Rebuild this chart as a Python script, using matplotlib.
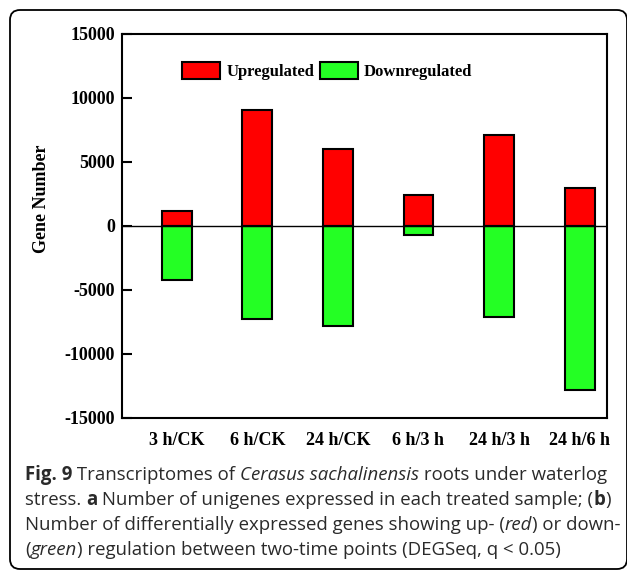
import numpy as np
import matplotlib.pyplot as plt
from matplotlib.patches import FancyBboxPatch, Patch
from matplotlib.transforms import IdentityTransform

plt.rcParams['axes.unicode_minus'] = False

# Dados: genes diferencialmente expressos por comparação
grupos = ['3 h/CK', '6 h/CK', '24 h/CK', '6 h/3 h', '24 h/3 h', '24 h/6 h']
up = [1200, 9050, 6000, 2400, 7080, 3000]
down = [-4200, -7250, -7850, -730, -7130, -12850]
yticks = [-15000, -10000, -5000, 0, 5000, 10000, 15000]

cor_up = '#ff0000'
cor_down = '#24ff24'
serif = ['Liberation Serif', 'DejaVu Serif']

W, H = 627, 571
fig = plt.figure(figsize=(W/100, H/100), dpi=100)
ax = fig.add_axes([122/W, 1-418/H, (607-122)/W, (418-34)/H])

x = np.arange(len(grupos))
ax.bar(x, up, width=0.37, color=cor_up, edgecolor='black', linewidth=1.5, zorder=3)
ax.bar(x, down, width=0.37, color=cor_down, edgecolor='black', linewidth=1.5, zorder=3)
ax.axhline(0, color='black', linewidth=1.0, zorder=4)

ax.set_xlim(-0.68, 5.34)
ax.set_ylim(-15000, 15000)
ax.set_yticks(yticks)
ax.set_xticks(x)
ax.set_xticklabels(grupos)
for lab in ax.get_xticklabels() + ax.get_yticklabels():
    lab.set_fontfamily(serif)
    lab.set_fontweight('bold')
    lab.set_fontsize(13)
ax.tick_params(axis='y', direction='in', length=7, width=1.5, pad=5)
ax.tick_params(axis='x', length=0, pad=10)
for s in ax.spines.values():
    s.set_linewidth(1.5)
ax.set_ylabel('Gene Number', fontfamily=serif, fontweight='bold', fontsize=13)
ax.yaxis.set_label_coords(-0.148, 0.572)

# Legenda
handles = [Patch(facecolor=cor_up, edgecolor='black', linewidth=1.5),
           Patch(facecolor=cor_down, edgecolor='black', linewidth=1.5)]
ax.legend(handles, ['Upregulated', 'Downregulated'], loc='center', bbox_to_anchor=(0.423, 0.904),
          ncol=2, frameon=False, handlelength=2.3, handleheight=1.2, handletextpad=0.35,
          columnspacing=0.35, prop={'family': serif, 'weight': 'bold', 'size': 12})

# Moldura arredondada
frame = FancyBboxPatch((10, 2), 617, 559, boxstyle='round,pad=0,rounding_size=10',
                       transform=IdentityTransform(), fill=False, edgecolor='black',
                       linewidth=1.3)
fig.patches.append(frame)

# Legenda da figura (texto com estilos misturados)
linhas = [
    [('Fig. 9', 'bold', 'normal'), (' Transcriptomes of ', 'normal', 'normal'),
     ('Cerasus sachalinensis', 'normal', 'italic'), (' roots under waterlog', 'normal', 'normal')],
    [('stress. ', 'normal', 'normal'), ('a', 'bold', 'normal'),
     (' Number of unigenes expressed in each treated sample; (', 'normal', 'normal'),
     ('b', 'bold', 'normal'), (')', 'normal', 'normal')],
    [('Number of differentially expressed genes showing up- (', 'normal', 'normal'),
     ('red', 'normal', 'italic'), (') or down-', 'normal', 'normal')],
    [('(', 'normal', 'normal'), ('green', 'normal', 'italic'),
     (') regulation between two-time points (DEGSeq, q < 0.05)', 'normal', 'normal')],
]
baselines = [480, 505, 530, 555]
renderer = fig.canvas.get_renderer()
cap_kw = dict(family=['Open Sans', 'DejaVu Sans'], size=13.45, color='#2a2a2a')

def largura(s, w, st):
    t1 = fig.text(0, 0, s + '|', fontweight=w, style=st, **cap_kw)
    t2 = fig.text(0, 0, '|', fontweight=w, style=st, **cap_kw)
    d = t1.get_window_extent(renderer).width - t2.get_window_extent(renderer).width
    t1.remove()
    t2.remove()
    return d

for runs, yb in zip(linhas, baselines):
    xp = 25
    for s, w, st in runs:
        fig.text(xp, H - yb, s, fontweight=w, style=st, va='baseline', ha='left',
                 transform=IdentityTransform(), **cap_kw)
        xp += largura(s, w, st)

fig.savefig('out.png', dpi=100)
